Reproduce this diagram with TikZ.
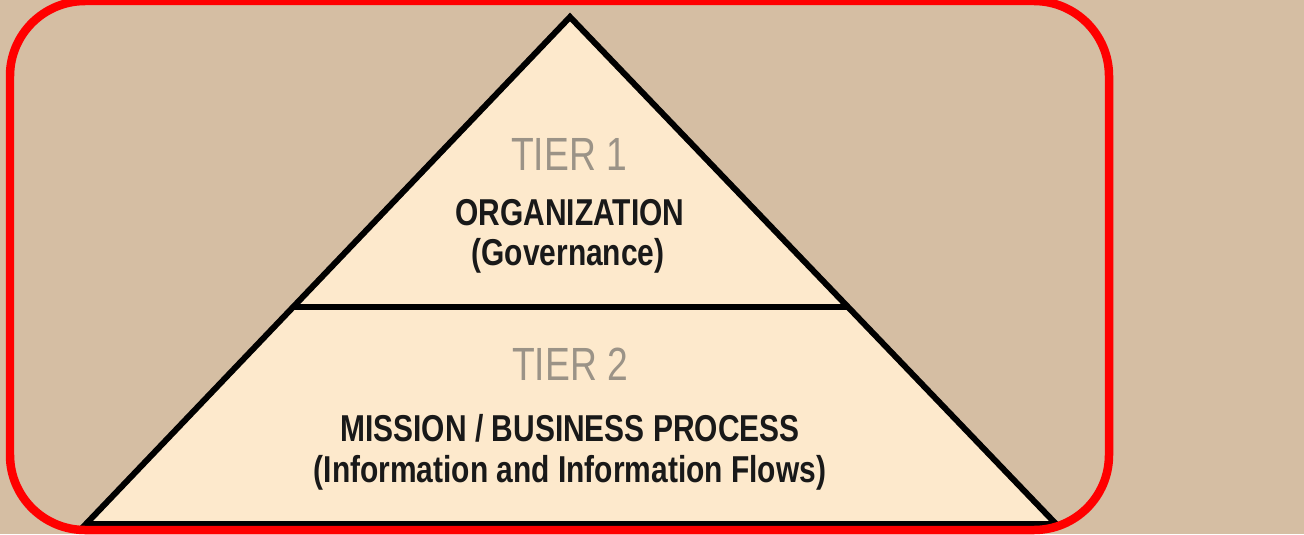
\documentclass[tikz,border=0pt]{standalone}
\usepackage{fontspec}
\newfontfamily\narrowsans{Liberation Sans}[FakeStretch=0.8]
\usepackage{tikz}
\usetikzlibrary{calc}

\definecolor{bgtan}{RGB}{213,190,163}
\definecolor{pyrcream}{RGB}{253,233,204}
\definecolor{tiergray}{RGB}{155,147,135}

\begin{document}
\begin{tikzpicture}[x=0.02cm, y=-0.02cm,
                pyramid/.style={draw=black, line width=0.12cm, fill=pyrcream, line join=miter},
                divider/.style={draw=black, line width=0.11cm},
                frame/.style={draw=red, line width=0.17cm, rounded corners=1.5cm},
                tierlabel/.style={anchor=base, text=tiergray, font=\narrowsans\fontsize{26.5}{30}\selectfont},
                titlelabel/.style={anchor=base, text=black!90, font=\narrowsans\bfseries\fontsize{21.3}{25}\selectfont}]

                % background and page size
                \path[use as bounding box, fill=bgtan] (0,0) rectangle (1304,534);

                % pyramid corners
                \coordinate (apex) at (570,17);
                \coordinate (baseL) at (86,524);
                \coordinate (baseR) at (1056,524);

                % pyramid with the line between the tiers
                \draw[pyramid] (apex) -- (baseR) -- (baseL) -- cycle;
                \draw[divider] ($(apex)!0.572!(baseL)$) -- ($(apex)!0.572!(baseR)$);

                % tier 1 texts
                \node[tierlabel] (tierone) at (569,170) {TIER 1};
                \node[titlelabel] (org) at (570,225) {ORGANIZATION};
                \node[titlelabel] (gov) at (568,265) {(Governance)};

                % tier 2 texts
                \node[tierlabel] (tiertwo) at (570,380) {TIER 2};
                \node[titlelabel] (mission) at (570,441) {MISSION / BUSINESS PROCESS};
                \node[titlelabel] (flows) at (570,482) {(Information and Information Flows)};

                % red frame round the pyramid
                \draw[frame] (10,1) rectangle (1109,530);
\end{tikzpicture}
\end{document}
